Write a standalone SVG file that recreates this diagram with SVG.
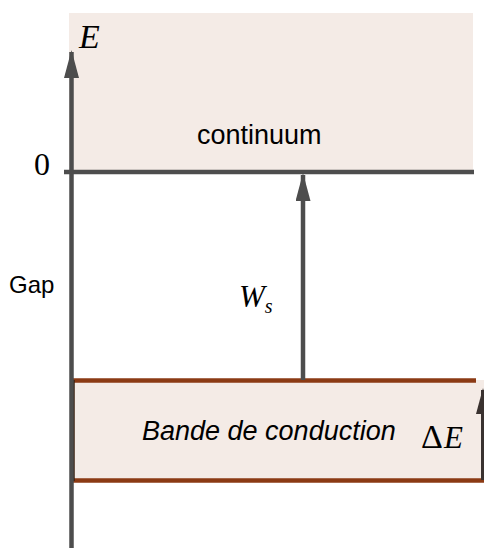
<svg xmlns="http://www.w3.org/2000/svg" width="484" height="549" viewBox="0 0 484 549">
<style>
.band{fill:#f4ebe6}
.ax{stroke:#4d4d4d;stroke-width:4.5;fill:none}
.brd{stroke:#8b3a14;stroke-width:4.5;fill:none}
.sans{font-family:"Liberation Sans",Arial,sans-serif;fill:#000}
.math{font-family:"Liberation Serif","Times New Roman",serif;font-style:italic;fill:#000}
.rm{font-family:"Liberation Serif","Times New Roman",serif;fill:#000}
</style>
<defs>
<marker id="ah" viewBox="0 0 28 15" refX="26" refY="7.5" markerWidth="28" markerHeight="15" orient="auto" markerUnits="userSpaceOnUse">
<path d="M0,0 L28,7.5 L0,15 z" fill="#4d4d4d"/>
</marker>
<marker id="ah2" viewBox="0 0 26 14" refX="24" refY="7" markerWidth="26" markerHeight="14" orient="auto" markerUnits="userSpaceOnUse">
<path d="M0,0 L26,7 L0,14 z" fill="#3a3230"/>
</marker>
</defs>
<g id="continuum">
<rect class="band" x="69" y="13" width="404" height="159"/>
<text class="sans" x="197" y="144" font-size="27">continuum</text>
</g>
<g id="bande">
<rect class="band" x="71" y="380" width="413" height="100"/>
<line class="brd" x1="71" y1="380.5" x2="476" y2="380.5"/>
<line class="brd" x1="71" y1="480.5" x2="484" y2="480.5"/>
<line x1="72.5" y1="380" x2="72.5" y2="481" stroke="#3a2010" stroke-width="4.5"/>
<text class="sans" x="142" y="440" font-size="27" font-style="italic">Bande de conduction</text>
<text class="rm" x="421" y="448" font-size="34">Δ</text>
<text class="math" x="444" y="448" font-size="31">E</text>
</g>
<g id="labels">
<text class="math" x="79" y="48" font-size="34">E</text>
<text class="rm" x="34" y="175" font-size="32">0</text>
<text class="sans" x="9" y="293" font-size="24">Gap</text>
<text class="math" x="239" y="307" font-size="31">W<tspan font-size="20" dy="6">s</tspan></text>
</g>
<g id="connectors">
<line class="ax" x1="64" y1="172" x2="474" y2="172"/>
<line class="ax" x1="71.5" y1="548" x2="71.5" y2="52" marker-end="url(#ah)"/>
<line class="ax" x1="303" y1="380" x2="303" y2="175" marker-end="url(#ah)"/>
<line x1="483" y1="480" x2="483" y2="390" stroke="#3a3230" stroke-width="4" marker-end="url(#ah2)"/>
</g>
</svg>
